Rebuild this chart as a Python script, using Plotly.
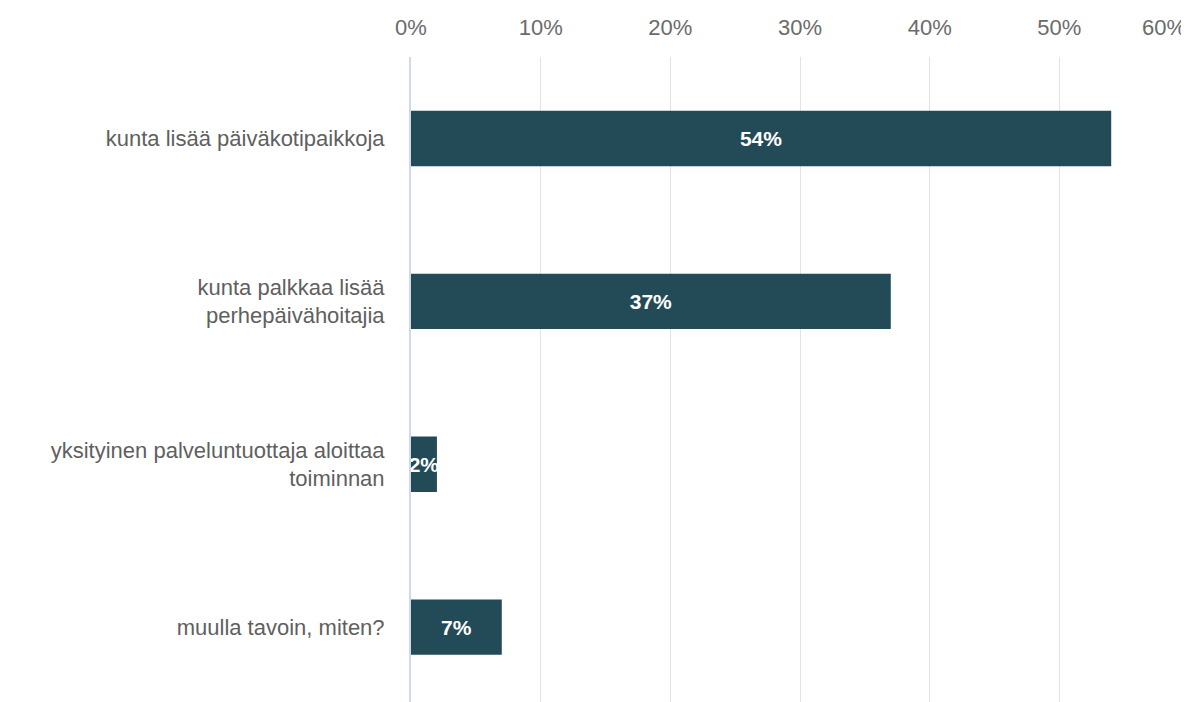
import plotly.graph_objects as go

categories = [
    "kunta lisää päiväkotipaikkoja",
    "kunta palkkaa lisää<br>perhepäivähoitajia",
    "yksityinen palveluntuottaja aloittaa<br>toiminnan",
    "muulla tavoin, miten?",
]
values = [54, 37, 2, 7]
bar_labels = ["54%", "37%", "2%", "7%"]
tick_vals = [0, 10, 20, 30, 40, 50, 60]
tick_text = ["0%", "10%", "20%", "30%", "40%", "50%", "60%"]

FONT = "Liberation Sans, Arial, sans-serif"
TICK_COLOR = "#6b6b6b"

fig = go.Figure(
    go.Bar(
        x=values,
        y=categories,
        orientation="h",
        marker=dict(color="#234b57", line=dict(width=0)),
        width=0.34,
        text=bar_labels,
        textposition="inside",
        insidetextanchor="middle",
        textangle=0,
        constraintext="none",
        textfont=dict(family=FONT, size=21, color="white", weight="bold"),
        cliponaxis=True,
    )
)

# last tick label is pulled inside the right edge, as in the reference
fig.add_annotation(
    x=tick_vals[-1],
    xref="x",
    y=1,
    yref="paper",
    text=tick_text[-1],
    showarrow=False,
    xanchor="right",
    yanchor="bottom",
    xshift=-1,
    yshift=15,
    font=dict(family=FONT, size=22, color=TICK_COLOR),
)

fig.update_layout(
    width=1181,
    height=694,
    margin=dict(l=403, r=0, t=49, b=0),
    paper_bgcolor="white",
    plot_bgcolor="white",
    showlegend=False,
    font=dict(family=FONT),
    xaxis=dict(
        side="top",
        range=[0, 60],
        tickvals=tick_vals,
        ticktext=tick_text[:-1] + [""],
        automargin=False,
        showgrid=True,
        gridcolor="#e3e3e3",
        gridwidth=1,
        zeroline=False,
        showline=False,
        ticks="outside",
        ticklen=12,
        tickcolor="rgba(0,0,0,0)",
        tickfont=dict(family=FONT, size=22, color=TICK_COLOR),
    ),
    yaxis=dict(
        categoryorder="array",
        categoryarray=categories,
        range=[3.46, -0.5],
        automargin=False,
        showgrid=False,
        zeroline=False,
        showline=True,
        linecolor="#cfd8f2",
        linewidth=2,
        ticks="outside",
        ticklen=20,
        tickcolor="rgba(0,0,0,0)",
        tickfont=dict(family=FONT, size=22, color="#5f5f5f"),
    ),
)

fig.write_html("out.html")
